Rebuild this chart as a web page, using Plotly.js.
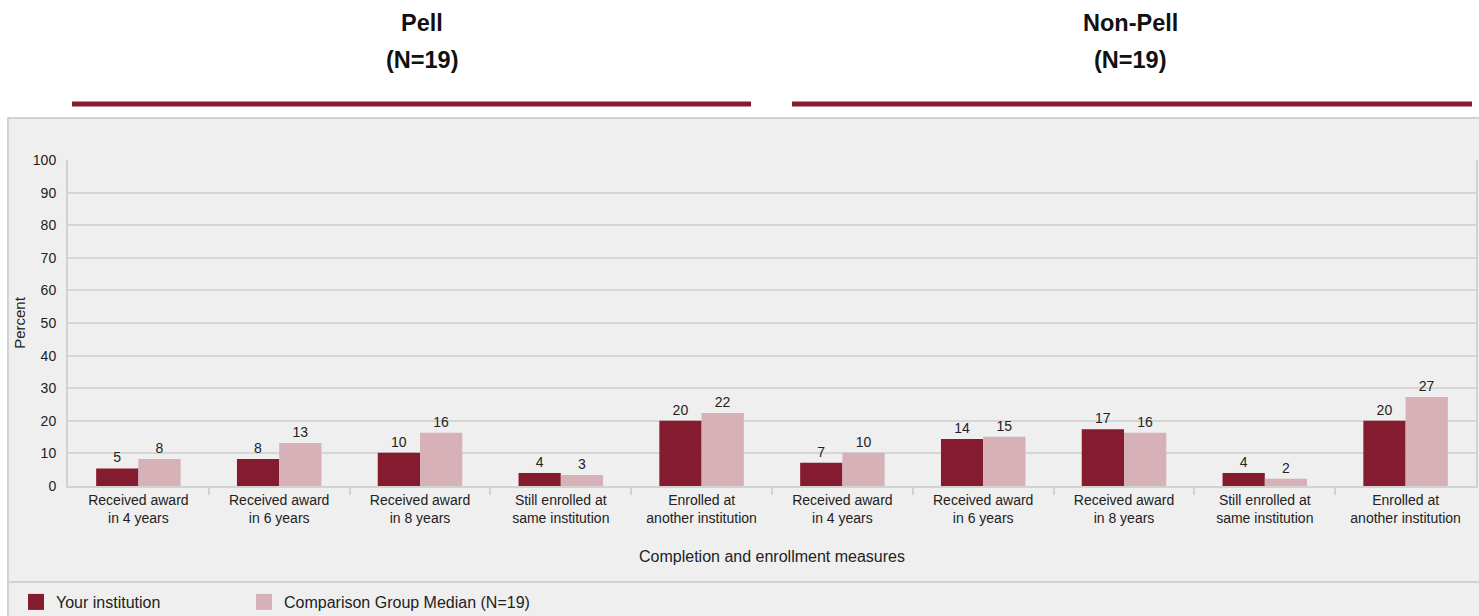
<!DOCTYPE html>
<html><head><meta charset="utf-8">
<script src="https://cdn.plot.ly/plotly-3.0.1.min.js"></script>
<style>html,body{margin:0;padding:0;background:#fff;}#c{width:1479px;height:616px;}</style>
</head><body><div id="c"></div>
<script>
const measures = ["Received award<br>in 4 years","Received award<br>in 6 years","Received award<br>in 8 years","Still enrolled at<br>same institution","Enrolled at<br>another institution"];
const groups = ["Pell", "Non-Pell"];
const groupNotes = ["(N=19)", "(N=19)"];
const yourPell = [5.4, 8.3, 10.2, 4.0, 20.0];
const compPell = [8.3, 13.2, 16.3, 3.4, 22.4];
const yourNonPell = [7.1, 14.4, 17.4, 4.0, 20.0];
const compNonPell = [10.2, 15.1, 16.3, 2.2, 27.3];
const seriesNames = ["Your institution", "Comparison Group Median (N=19)"];
const yTicks = [0,10,20,30,40,50,60,70,80,90,100];

const W = 1479, H = 616, L = 68, R = 3, T = 160, B = 130;
const pw = W - L - R, ph = H - T - B;
const px = x => (x - L) / pw;
const py = y => (H - B - y) / ph;

const xs = [...Array(measures.length * 2).keys()];
const labels = measures.concat(measures);
const your = yourPell.concat(yourNonPell);
const comp = compPell.concat(compNonPell);

const dark = '#841b2e', light = '#d6b1b7';
const common = {type:'bar', x: xs, texttemplate:'%{y:.0f}', textposition:'outside', cliponaxis:false,
  textfont:{family:'Liberation Sans, Arial', size:14, color:'#222'}, hoverinfo:'none', showlegend:false};
const traces = [
  Object.assign({}, common, {name: seriesNames[0], y: your, marker:{color: dark}}),
  Object.assign({}, common, {name: seriesNames[1], y: comp, marker:{color: light}}),
  {type:'scatter', mode:'markers', x:[null], y:[null], name: seriesNames[0], legend:'legend', marker:{symbol:'square', size:16, color: dark}, showlegend:true, hoverinfo:'none'},
  {type:'scatter', mode:'markers', x:[null], y:[null], name: seriesNames[1], legend:'legend2', marker:{symbol:'square', size:16, color: light}, showlegend:true, hoverinfo:'none'}
];

const shapes = [
  {type:'rect', xref:'paper', yref:'paper', x0:px(8), x1:px(1480), y0:py(118), y1:py(617), fillcolor:'#efefef', line:{color:'#d2d2d2', width:2}, layer:'below'},
  {type:'line', xref:'paper', yref:'paper', x0:px(8), x1:px(1480), y0:py(582), y1:py(582), line:{color:'#d2d2d2', width:2}},
  {type:'line', xref:'paper', yref:'paper', x0:px(72), x1:px(751), y0:py(104), y1:py(104), line:{color:'#841b2e', width:5}},
  {type:'line', xref:'paper', yref:'paper', x0:px(792), x1:px(1472), y0:py(104), y1:py(104), line:{color:'#841b2e', width:5}}
];
const titleFont = {family:'Liberation Sans, Arial', size:23.5, color:'#111'};
const ann = (x, y, t) => ({xref:'paper', yref:'paper', x:px(x), y:py(y), xanchor:'center', yanchor:'middle', text:'<b>'+t+'</b>', showarrow:false, font:titleFont});
const annotations = [
  ann(422, 23, groups[0]), ann(422, 60, groupNotes[0]),
  ann(1130, 23, groups[1]), ann(1130, 60, groupNotes[1])
];
const legBase = {orientation:'h', xref:'container', yref:'container', xanchor:'left', yanchor:'middle', y:(H-602)/H,
  bgcolor:'rgba(0,0,0,0)', font:{size:16, color:'#222'}, itemsizing:'trace'};

const layout = {
  width: W, height: H,
  margin:{l:L, r:R, t:T, b:B, pad:0, autoexpand:false},
  paper_bgcolor:'#fff', plot_bgcolor:'#efefef',
  font:{family:'Liberation Sans, Arial', size:14, color:'#222'},
  barmode:'group', bargap:0.4, bargroupgap:0,
  showlegend:true,
  legend: Object.assign({}, legBase, {x:16/W}),
  legend2: Object.assign({}, legBase, {x:244/W}),
  xaxis:{range:[-0.5, 9.5], tickvals: xs, ticktext: labels, ticks:'', showgrid:false, zeroline:false, automargin:false,
    showline:true, linecolor:'#d2d2d2', linewidth:2, tickfont:{size:14, color:'#222'},
    minor:{tickvals: xs.slice(0,-1).map(v=>v+0.5), ticks:'outside', ticklen:7, tickcolor:'#d2d2d2', tickwidth:2, showgrid:false},
    title:{text:'Completion and enrollment measures', font:{size:16, color:'#222'}, standoff:26}, fixedrange:true},
  yaxis:{range:[0,100], tickvals:yTicks, showgrid:true, gridcolor:'#d6d6d6', gridwidth:2, zeroline:false, automargin:false,
    showline:true, mirror:true, linecolor:'#d2d2d2', linewidth:2, ticks:'', ticklen:0, ticklabelstandoff:7, tickfont:{size:14, color:'#222'},
    title:{text:'Percent', font:{size:15, color:'#222'}, standoff:4}, fixedrange:true},
  shapes, annotations
};
Plotly.newPlot('c', traces, layout, {displayModeBar:false, staticPlot:true});
</script></body></html>
